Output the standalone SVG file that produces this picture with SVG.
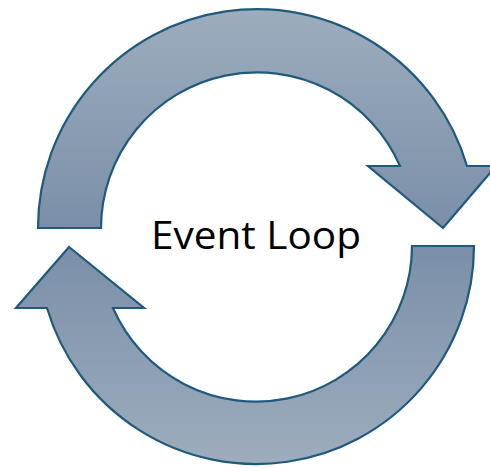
<svg xmlns="http://www.w3.org/2000/svg" width="490" height="468" viewBox="0 0 490 468">
<defs>
<linearGradient id="gTop" gradientUnits="userSpaceOnUse" x1="0" y1="9" x2="0" y2="228">
<stop offset="0" stop-color="#9dadbe"/>
<stop offset="1" stop-color="#7a8fa7"/>
</linearGradient>
<linearGradient id="gBot" gradientUnits="userSpaceOnUse" x1="0" y1="246" x2="0" y2="464">
<stop offset="0" stop-color="#7a8fa7"/>
<stop offset="1" stop-color="#9dadbe"/>
</linearGradient>
<style>
.arrow{stroke:#1f5a7d;stroke-width:2.2;stroke-linejoin:miter}
.label{font-family:"Open Sans","Liberation Sans",sans-serif;font-size:39px;fill:#000}
</style>
</defs>
<rect width="490" height="468" fill="#fff"/>
<g id="connectors">
<path id="arrow-top" class="arrow" fill="url(#gTop)" d="M 38,228 A 219 219 0 0 1 467,166 L 496,166 L 443,228 L 368,166 L 400,166 A 156 156 0 0 0 101,228 Z"/>
<path id="arrow-bottom" class="arrow" fill="url(#gBot)" d="M 474,246 A 218 218 0 0 1 47,308 L 16,308 L 69,247 L 144,308 L 113,308 A 156 156 0 0 0 412,246 Z"/>
</g>
<g id="node-event-loop">
<text class="label" x="151" y="249" textLength="210" lengthAdjust="spacingAndGlyphs">Event Loop</text>
</g>
</svg>
